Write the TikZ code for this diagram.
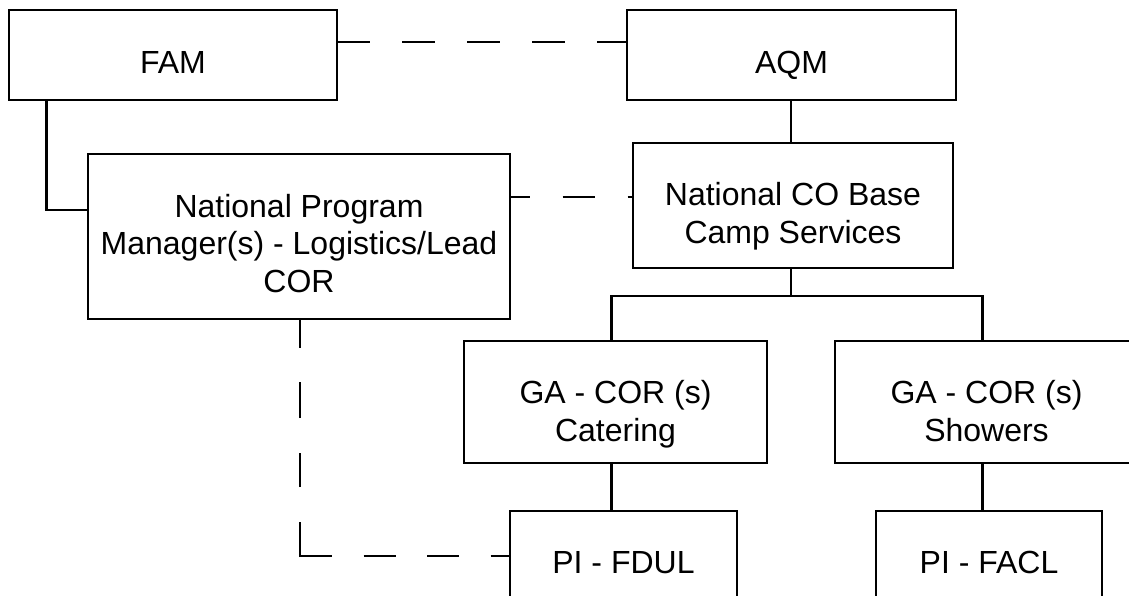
\documentclass[tikz,border=0pt]{standalone}
\usepackage{fontspec}
\setmainfont{Liberation Sans}
\usetikzlibrary{calc}
\begin{document}
\begin{tikzpicture}[x=1pt,y=-1pt,
  font=\fontsize{32}{37.5}\selectfont,
  box/.style={draw=black, line width=2.4pt, rectangle, inner sep=0pt, outer sep=0pt},
  lbl/.style={align=center, inner sep=0pt, outer sep=0pt, text=black},
  link/.style={draw=black, line width=2.4pt},
  dashlink/.style={link, dash pattern=on 32.5pt off 32.5pt}]
\useasboundingbox (0,0) rectangle (1129,596);
\clip (0,0) rectangle (1129,596);
\fill[white] (0,0) rectangle (1129,596);

% boxes
\node[box, minimum width=328pt, minimum height=90pt]  (fam) at (173,55) {};
\node[box, minimum width=329pt, minimum height=90pt]  (aqm) at (791.5,55) {};
\node[box, minimum width=422pt, minimum height=165pt] (npm) at (299,236.5) {};
\node[box, minimum width=320pt, minimum height=125pt] (nco) at (793,205.5) {};
\node[box, minimum width=303pt, minimum height=122pt] (gac) at (615.5,402) {};
\node[box, minimum width=303pt, minimum height=122pt] (gas) at (986.5,402) {};
\node[box, minimum width=227pt, minimum height=110pt] (pi1) at (623.5,566) {};
\node[box, minimum width=226pt, minimum height=110pt] (pi2) at (989,566) {};

% box texts
\node[lbl] (famt) at (173,66) {FAM\strut};
\node[lbl] (aqmt) at (791.5,66) {AQM\strut};
\node[lbl] (npmt) at (299,247) {National Program\strut\\Manager(s) - Logistics/Lead\strut\\COR\strut};
\node[lbl] (ncot) at (793,217) {National CO Base\strut\\Camp Services\strut};
\node[lbl] (gact) at (615.5,415) {GA - COR (s)\strut\\Catering\strut};
\node[lbl] (gast) at (986.5,415) {GA - COR (s)\strut\\Showers\strut};
\node[lbl] (pi1t) at (623.5,566) {PI - FDUL\strut};
\node[lbl] (pi2t) at (989,566) {PI - FACL\strut};

% helper levels and columns
\coordinate (toplvl) at (0,42);
\coordinate (midlvl) at (0,197);
\coordinate (famlvl) at (0,210);
\coordinate (barlvl) at (0,296);
\coordinate (famdrop) at (46.5,0);
\coordinate (spine) at (791,0);
\coordinate (gacx) at (611.5,0);
\coordinate (gasx) at (982.5,0);
\coordinate (elbow) at (300,556);
\coordinate (elbowlow) at (300,557.2);

% solid reporting lines
\draw[link] (fam.south -| famdrop) |- (npm.west |- famlvl);
\draw[link] (aqm.south -| spine) -- (nco.north -| spine);
\draw[link] (nco.south -| spine) -- (spine |- barlvl);
\draw[link] (gac.north -| gacx) -- (gacx |- barlvl) -- (gasx |- barlvl) -- (gas.north -| gasx);
\draw[link] (gac.south -| gacx) -- (pi1.north -| gacx);
\draw[link] (gas.south -| gasx) -- (pi2.north -| gasx);

% dashed coordination lines
\draw[dashlink] (fam.east |- toplvl) -- (aqm.west |- toplvl);
\draw[dashlink, dash phase=12.5pt] (npm.east |- midlvl) -- (nco.west |- midlvl);
\draw[link, dash pattern=on 35.7pt off 34.5pt on 34.5pt off 34.5pt] (elbowlow) -- (elbow |- npm.south);
\draw[link, dash pattern=on 32pt off 31.5pt] (elbow) -- (pi1.west |- elbow);
\end{tikzpicture}
\end{document}
